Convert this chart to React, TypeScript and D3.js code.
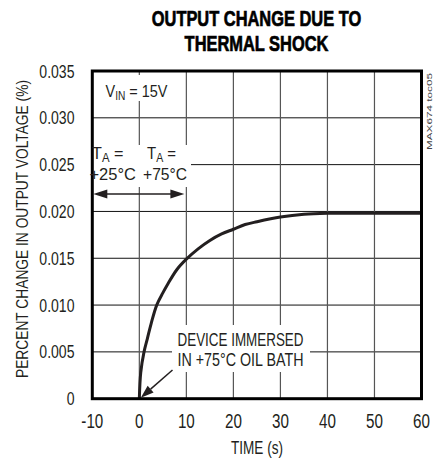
import React from 'react';
import * as d3 from 'd3';

// thermal shock response
const timeS = [0, 0.3, 1, 1.7, 2.5, 3.7, 5, 6, 8, 10, 12.5, 15, 17.5, 20, 22.5, 25, 30, 35, 40, 50, 60];
const changePct = [0, 0.0028, 0.005, 0.0064, 0.008, 0.01, 0.0113, 0.0122, 0.0138, 0.0149, 0.016, 0.0169, 0.0176, 0.0181, 0.0186, 0.0189, 0.0194, 0.0197, 0.0198, 0.0198, 0.0198];

const xTicks = [-10, 0, 10, 20, 30, 40, 50, 60];
const yTicks = [0, 0.005, 0.01, 0.015, 0.02, 0.025, 0.03, 0.035];
const yTickLabels = ['0', '0.005', '0.010', '0.015', '0.020', '0.025', '0.030', '0.035'];

const titleLines = ['OUTPUT CHANGE DUE TO', 'THERMAL SHOCK'];

const W = 433;
const H = 458;
const FONT = '"Liberation Sans", Arial, sans-serif';
const INK = '#231f20';

// narrow text: the datasheet uses a condensed face, so squeeze a regular one
function Narrow(props: { x: number; y: number; sx: number; size: number; anchor?: string; children: React.ReactNode }) {
  return (
    <text transform={`translate(${props.x},${props.y}) scale(${props.sx},1)`} textAnchor={props.anchor || 'start'}
      fontSize={props.size} fill={INK}>
      {props.children}
    </text>
  );
}

export default function App() {
  const x = d3.scaleLinear().domain([-10, 60]).range([92.3, 421.5]);
  const y = d3.scaleLinear().domain([0, 0.035]).range([398.7, 71]);

  const line = d3.line<number>()
    .x((d, i) => x(timeS[i]))
    .y((d) => y(d))
    .curve(d3.curveCatmullRom.alpha(0.5));

  const x0 = x.range()[0];
  const x1 = x.range()[1];
  const yTop = y.range()[1];
  const yBot = y.range()[0];

  // arrow row under the T_A labels
  const arrowY = 194;
  const head = (tipX: number, dir: number) =>
    `M${tipX},${arrowY} L${tipX - dir * 14},${arrowY - 4.5} L${tipX - dir * 14},${arrowY + 4.5} Z`;

  // "device immersed" arrow
  const ax0 = 172.5, ay0 = 370;
  const tipX = x(0) + 1.5, tipY = y(0) - 1;
  const ang = Math.atan2(tipY - ay0, tipX - ax0);
  const hl = 13, hw = 4.5;
  const bx = tipX - hl * Math.cos(ang), by = tipY - hl * Math.sin(ang);
  const immHead = `M${tipX},${tipY} L${bx + hw * Math.sin(ang)},${by - hw * Math.cos(ang)} L${bx - hw * Math.sin(ang)},${by + hw * Math.cos(ang)} Z`;

  return (
    <svg width={W} height={H} style={{ position: 'absolute', left: 0, top: 0, background: '#fff' }} fontFamily={FONT}>
      {/* title */}
      {titleLines.map((t, i) => (
        <text key={t} transform={`translate(256.5,${26 + i * 25}) scale(0.73,1)`} textAnchor="middle" fontSize={22.5}
          fontWeight="bold" fill="#000" stroke="#000" strokeWidth={0.7}>{t}</text>
      ))}

      {/* grid */}
      {yTicks.slice(1, -1).map((v) => (
        <line key={'h' + v} x1={x0} x2={x1} y1={y(v)} y2={y(v)} stroke="#111" strokeWidth={1} />
      ))}
      {xTicks.slice(1, -1).map((t) => (
        <line key={'v' + t} x1={x(t)} x2={x(t)} y1={yTop} y2={yBot} stroke="#555" strokeWidth={1.2} />
      ))}

      {/* white knock-outs behind the annotations */}
      <rect x={100} y={75} width={72} height={26} fill="#fff" />
      <rect x={93} y={145} width={98} height={42} fill="#fff" />
      <rect x={172} y={325} width={138} height={47} fill="#fff" />

      {/* curve */}
      <path d={line(changePct) || ''} fill="none" stroke={INK} strokeWidth={3} />

      {/* frame */}
      <rect x={x0} y={yTop} width={x1 - x0} height={yBot - yTop} fill="none" stroke="#000" strokeWidth={3} />

      {/* tick labels */}
      {yTicks.map((v, i) => (
        <Narrow key={'yl' + v} x={74.5} y={y(v) + 6.5} sx={0.76} size={18.5} anchor="end">{yTickLabels[i]}</Narrow>
      ))}
      {xTicks.map((t) => (
        <Narrow key={'xl' + t} x={x(t)} y={427.5} sx={0.78} size={19.5} anchor="middle">{t}</Narrow>
      ))}

      {/* axis titles */}
      <text x={257} y={454} textAnchor="middle" fontSize={18.5} fill={INK} textLength={52} lengthAdjust="spacingAndGlyphs">TIME (s)</text>
      <text transform="translate(27.5,229) rotate(-90)" textAnchor="middle" fontSize={16.3} fill={INK}
        textLength={298} lengthAdjust="spacingAndGlyphs">
        PERCENT CHANGE IN OUTPUT VOLTAGE (%)
      </text>
      <text transform="translate(432,111.5) rotate(-90)" textAnchor="middle" fontSize={8} fill="#444"
        textLength={77} lengthAdjust="spacingAndGlyphs">MAX674 toc05</text>

      {/* annotations */}
      <Narrow x={105.5} y={97} sx={0.85} size={17}>
        V<tspan fontSize={12} dy={3}>IN</tspan><tspan dy={-3}> = 15V</tspan>
      </Narrow>
      <Narrow x={92} y={158.5} sx={0.95} size={17}>
        T<tspan fontSize={12} dy={3}>A</tspan><tspan dy={-3}> =</tspan>
      </Narrow>
      <Narrow x={89.5} y={179.5} sx={0.97} size={17}>+25°C</Narrow>
      <Narrow x={147} y={158.5} sx={0.88} size={17}>
        T<tspan fontSize={12} dy={3}>A</tspan><tspan dy={-3}> =</tspan>
      </Narrow>
      <Narrow x={143} y={179.5} sx={0.92} size={17}>+75°C</Narrow>

      <line x1={x(0)} x2={x(-10) + 12} y1={arrowY} y2={arrowY} stroke={INK} strokeWidth={1.5} />
      <path d={head(x(-10) + 1, -1)} fill={INK} />
      <line x1={x(0)} x2={x(10) - 14} y1={arrowY} y2={arrowY} stroke={INK} strokeWidth={1.5} />
      <path d={head(x(10) - 2, 1)} fill={INK} />

      <text x={177.5} y={346} fontSize={18.5} fill={INK} textLength={126} lengthAdjust="spacingAndGlyphs">DEVICE IMMERSED</text>
      <text x={177.5} y={366} fontSize={18.5} fill={INK} textLength={126} lengthAdjust="spacingAndGlyphs">IN +75°C OIL BATH</text>
      <line x1={ax0} y1={ay0} x2={bx} y2={by} stroke={INK} strokeWidth={1.5} />
      <path d={immHead} fill={INK} />
    </svg>
  );
}
